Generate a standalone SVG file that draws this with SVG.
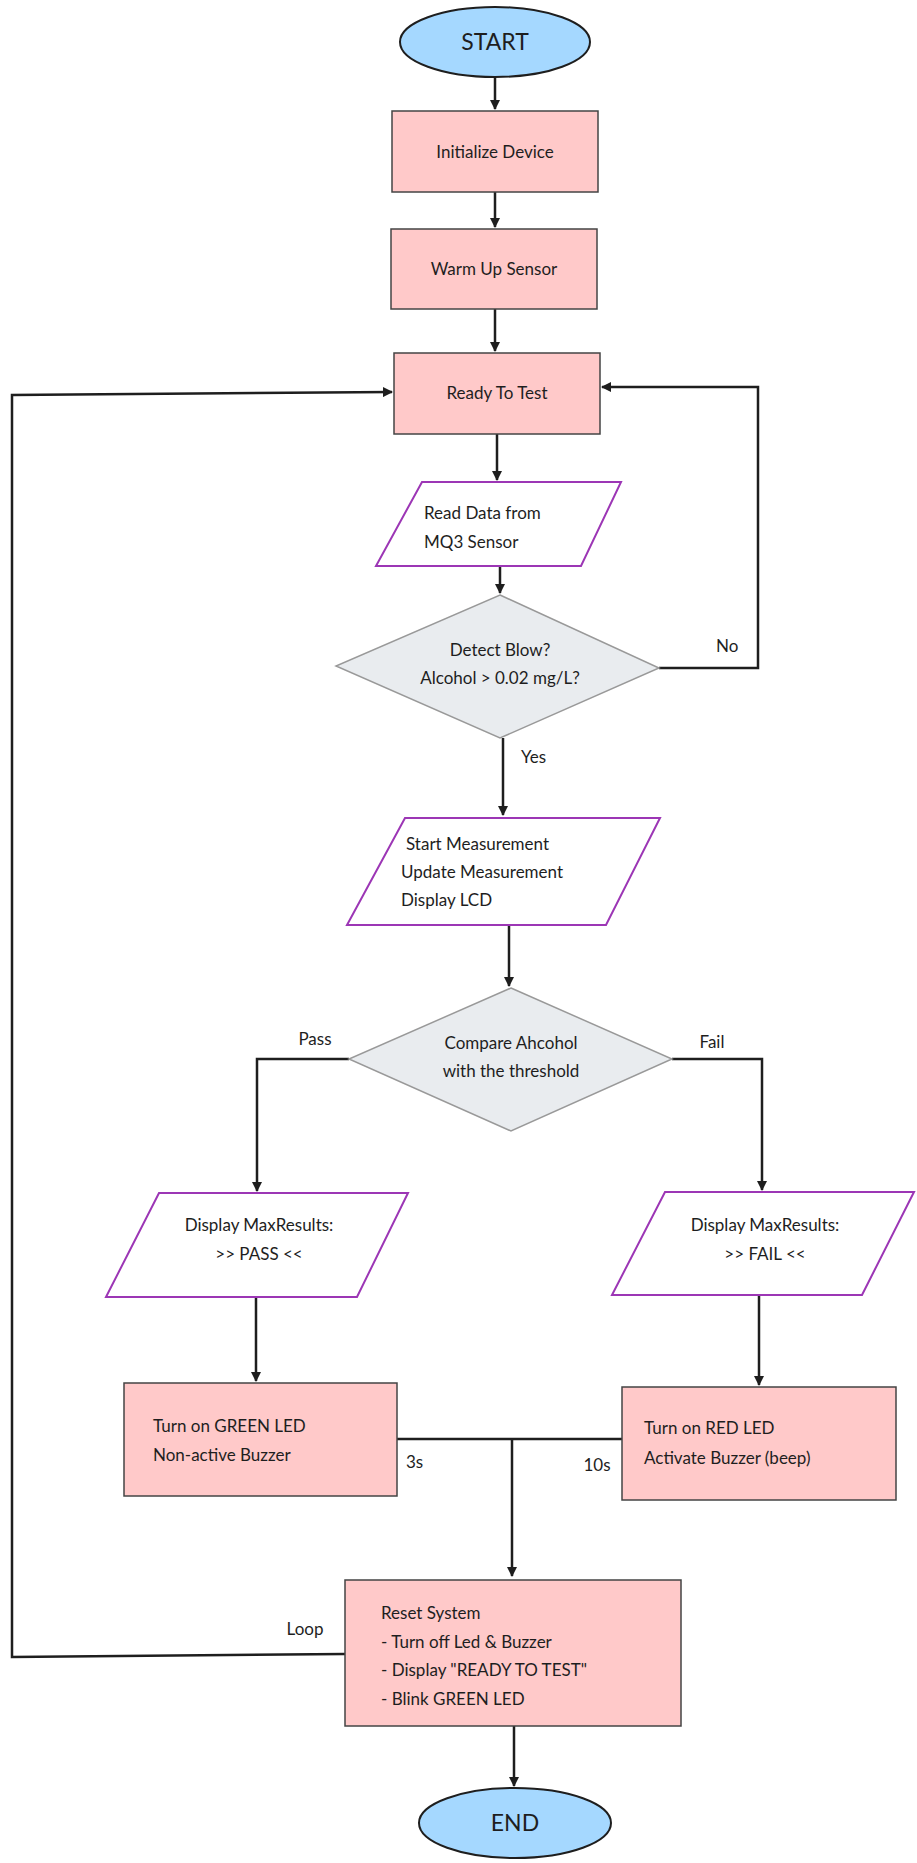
<svg xmlns="http://www.w3.org/2000/svg" width="917" height="1863" viewBox="0 0 917 1863">
<style>
text{font-family:Lato,"Open Sans","Liberation Sans",sans-serif;font-size:17px;fill:#1e1e1e}
.c{text-anchor:middle}
.box{fill:#ffc9c9;stroke:#444;stroke-width:1.5}
.term{fill:#a5d8ff;stroke:#1e1e1e;stroke-width:2}
.dia{fill:#e9ecef;stroke:#999;stroke-width:1.5}
.io{fill:#fff;stroke:#9c36b5;stroke-width:2}
.ln{fill:none;stroke:#1e1e1e;stroke-width:2.5}
</style>
<defs><marker id="a" markerWidth="10" markerHeight="10" refX="9" refY="5" orient="auto" markerUnits="userSpaceOnUse"><path d="M0,0 L10,5 L0,10 Z" fill="#1e1e1e"/></marker></defs>
<g id="connectors">
<path class="ln" d="M495,78 V109" marker-end="url(#a)"/>
<path class="ln" d="M495,192 V227" marker-end="url(#a)"/>
<path class="ln" d="M495,309 V351" marker-end="url(#a)"/>
<path class="ln" d="M497,434 V480" marker-end="url(#a)"/>
<path class="ln" d="M500,566 V593" marker-end="url(#a)"/>
<path class="ln" d="M659,668 H758 V387 H602" marker-end="url(#a)"/>
<path class="ln" d="M503,738 V815" marker-end="url(#a)"/>
<path class="ln" d="M509,925 V986" marker-end="url(#a)"/>
<path class="ln" d="M349,1059 H257 V1191" marker-end="url(#a)"/>
<path class="ln" d="M672,1059 H762 V1190" marker-end="url(#a)"/>
<path class="ln" d="M256,1297 V1381" marker-end="url(#a)"/>
<path class="ln" d="M759,1295 V1385" marker-end="url(#a)"/>
<path class="ln" d="M397,1439 H622"/>
<path class="ln" d="M512,1439 V1576" marker-end="url(#a)"/>
<path class="ln" d="M345,1654 L12,1657 V395 L392,392" marker-end="url(#a)"/>
<path class="ln" d="M514,1726 V1786" marker-end="url(#a)"/>
<text x="716" y="652">No</text>
<text x="521" y="763">Yes</text>
<text x="315" y="1045" class="c">Pass</text>
<text x="712" y="1048" class="c">Fail</text>
<text x="406" y="1468">3s</text>
<text x="597" y="1471" class="c">10s</text>
<text x="305" y="1635" class="c">Loop</text>
</g>
<g id="start"><ellipse class="term" cx="495" cy="42" rx="95" ry="35"/><text x="495" y="50" class="c" style="font-size:23px">START</text></g>
<g id="init"><rect class="box" x="392" y="111" width="206" height="81"/><text x="495" y="158" class="c">Initialize Device</text></g>
<g id="warm"><rect class="box" x="391" y="229" width="206" height="80"/><text x="494" y="275" class="c">Warm Up Sensor</text></g>
<g id="ready"><rect class="box" x="394" y="353" width="206" height="81"/><text x="497" y="399" class="c">Ready To Test</text></g>
<g id="read"><polygon class="io" points="422,482 621,482 581,566 376,566"/><text x="424" y="519">Read Data from</text><text x="424" y="548">MQ3 Sensor</text></g>
<g id="detect"><polygon class="dia" points="500,595 659,668 500,738 336,666"/><text x="500" y="656" class="c">Detect Blow?</text><text x="500" y="684" class="c">Alcohol &gt; 0.02 mg/L?</text></g>
<g id="measure"><polygon class="io" points="405,818 660,818 606,925 347,925"/><text x="406" y="850">Start Measurement</text><text x="401" y="878">Update Measurement</text><text x="401" y="906">Display LCD</text></g>
<g id="compare"><polygon class="dia" points="511,988 672,1059 511,1131 349,1059"/><text x="511" y="1049" class="c">Compare Ahcohol</text><text x="511" y="1077" class="c">with the threshold</text></g>
<g id="pass"><polygon class="io" points="159,1193 408,1193 357,1297 106,1297"/><text x="259" y="1231" class="c">Display MaxResults:</text><text x="259" y="1260" class="c">&gt;&gt; PASS &lt;&lt;</text></g>
<g id="fail"><polygon class="io" points="665,1192 914,1192 862,1295 612,1295"/><text x="765" y="1231" class="c">Display MaxResults:</text><text x="765" y="1260" class="c">&gt;&gt; FAIL &lt;&lt;</text></g>
<g id="green"><rect class="box" x="124" y="1383" width="273" height="113"/><text x="153" y="1432">Turn on GREEN LED</text><text x="153" y="1461">Non-active Buzzer</text></g>
<g id="red"><rect class="box" x="622" y="1387" width="274" height="113"/><text x="644" y="1434">Turn on RED LED</text><text x="644" y="1464">Activate Buzzer (beep)</text></g>
<g id="reset"><rect class="box" x="345" y="1580" width="336" height="146"/><text x="381" y="1619">Reset System</text><text x="381" y="1648">- Turn off Led &amp; Buzzer</text><text x="381" y="1676">- Display "READY TO TEST"</text><text x="381" y="1705">- Blink GREEN LED</text></g>
<g id="end"><ellipse class="term" cx="515" cy="1823" rx="96" ry="35"/><text x="515" y="1831" class="c" style="font-size:23px">END</text></g>
</svg>
